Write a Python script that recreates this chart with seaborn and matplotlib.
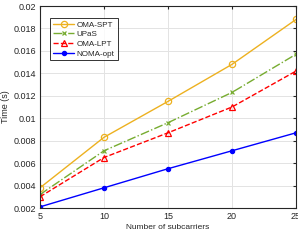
import matplotlib
matplotlib.use("Agg")
import matplotlib.pyplot as plt
import pandas as pd
import seaborn as sns
from matplotlib.ticker import FuncFormatter

subcarriers = [5, 10, 15, 20, 25]
oma_spt = [0.0038, 0.0083, 0.0115, 0.0148, 0.0188]
upas = [0.0032, 0.0071, 0.0096, 0.0123, 0.0157]
oma_lpt = [0.0030, 0.0065, 0.0087, 0.0110, 0.0142]
noma_opt = [0.0021, 0.0038, 0.0055, 0.0071, 0.0087]

y_ticks = [0.002, 0.004, 0.006, 0.008, 0.01, 0.012, 0.014, 0.016, 0.018, 0.02]
x_ticks = [5, 10, 15, 20, 25]


def main() -> None:
    sns.set_style("whitegrid")
    plt.rcParams["font.family"] = ["Liberation Sans", "DejaVu Sans"]

    df = pd.DataFrame({
        "n": subcarriers * 4,
        "time": oma_spt + upas + oma_lpt + noma_opt,
        "scheme": ["OMA-SPT"] * 5 + ["UPaS"] * 5 + ["OMA-LPT"] * 5 + ["NOMA-opt"] * 5,
    })

    styles = {
        "OMA-SPT": dict(color="#EDB120", ls="-", marker="o", mfc="none", ms=4.5),
        "UPaS": dict(color="#77AC30", ls="-.", marker="x", mfc="none", ms=3.5),
        "OMA-LPT": dict(color="#FF0000", ls="--", marker="^", mfc="none", ms=4.5),
        "NOMA-opt": dict(color="#0000FF", ls="-", marker="o", mfc="#0000FF", ms=3),
    }

    fig = plt.figure(figsize=(2.98, 2.41), dpi=100)
    ax = fig.add_axes([40 / 298, 33 / 241, 256 / 298, 202 / 241])

    for name, st in styles.items():
        sub = df[df["scheme"] == name]
        sns.lineplot(data=sub, x="n", y="time", ax=ax, label=name,
                     color=st["color"], linestyle=st["ls"], marker=st["marker"],
                     markerfacecolor=st["mfc"], markeredgecolor=st["color"],
                     markersize=st["ms"], linewidth=1.0, markeredgewidth=0.9)

    ax.set_xlim(5, 25)
    ax.set_ylim(0.002, 0.02)
    ax.set_xticks(x_ticks)
    ax.set_yticks(y_ticks)
    ax.yaxis.set_major_formatter(FuncFormatter(lambda v, p: f"{v:g}"))
    ax.tick_params(labelsize=6.5, colors="#262626", length=2, direction="in",
                   top=True, right=True, pad=3)
    ax.grid(True, color="#e3e3e3", linewidth=0.7)
    for s in ax.spines.values():
        s.set_color("#262626")
        s.set_linewidth(0.8)
    ax.set_xlabel("Number of subcarriers", fontsize=6, color="#262626", labelpad=2)
    ax.set_ylabel("Time (s)", fontsize=6.5, color="#262626", labelpad=2)

    leg = ax.legend(loc="upper left", bbox_to_anchor=(0.04, 0.94), fontsize=5.8,
                    frameon=True, fancybox=False, edgecolor="black",
                    handlelength=2.6, borderpad=0.35, labelspacing=0.25,
                    handletextpad=0.35, borderaxespad=0)
    leg.get_frame().set_linewidth(0.7)

    fig.savefig("out.png", dpi=100)
    plt.close(fig)


if __name__ == "__main__":
    main()
